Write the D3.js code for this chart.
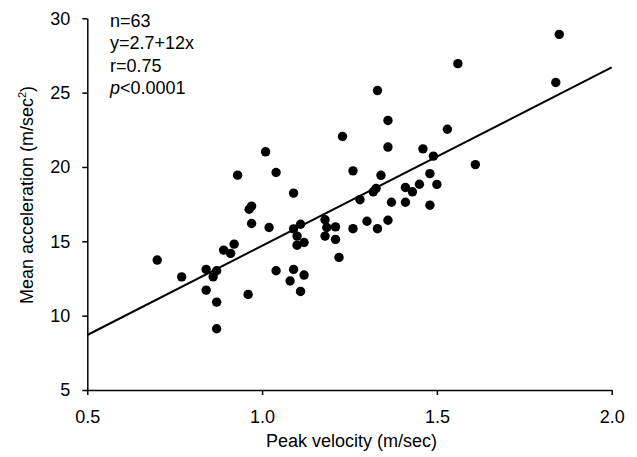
<!DOCTYPE html>
<html>
<head>
<meta charset="utf-8">
<script src="https://cdn.jsdelivr.net/npm/d3@7"></script>
<style>
  body { margin: 0; background: #fff; }
  svg text { font-family: "Liberation Sans", Arial, sans-serif; fill: #000; }
</style>
</head>
<body>
<div id="chart"></div>
<script>
// peak velocity (m/sec)
const peakVelocity = [
  0.70, 0.77, 0.84, 0.87, 0.86, 0.84, 0.87, 0.87, 0.89, 0.91,
  0.92, 0.96, 0.97, 1.02, 1.04, 1.08, 1.09, 1.11, 1.12, 1.09,
  1.10, 1.10, 1.12, 1.11, 1.01, 0.93, 1.04, 1.09, 0.963, 0.97,
  1.18, 1.185, 1.21, 1.18, 1.21, 1.22, 1.26, 1.30, 1.33, 1.36,
  1.28, 1.33, 1.36, 1.23, 1.36, 1.53, 1.46, 1.49, 1.26, 1.34,
  1.326, 1.318, 1.41, 1.43, 1.45, 1.48, 1.50, 1.37, 1.41, 1.48,
  1.61, 1.85, 1.84, 1.56
];
// mean acceleration (m/sec^2)
const meanAccel = [
  13.74, 12.61, 13.11, 13.02, 12.61, 11.72, 10.91, 9.12, 14.41, 14.19,
  14.81, 11.43, 16.20, 15.93, 13.02, 12.33, 13.11, 11.63, 12.73, 15.84,
  15.35, 14.74, 14.92, 16.15, 21.02, 19.45, 19.63, 18.24, 17.16, 17.37,
  16.45, 15.93, 15.97, 15.35, 15.13, 13.92, 15.85, 16.35, 15.85, 16.42,
  17.80, 25.14, 23.13, 22.05, 21.34, 22.54, 21.22, 20.73, 19.74, 19.44,
  18.55, 18.33, 18.62, 18.33, 18.84, 19.55, 18.83, 17.63, 17.63, 17.43,
  20.16, 28.92, 25.68, 26.95
];
const xTicks = [0.5, 1.0, 1.5, 2.0];
const yTicks = [5, 10, 15, 20, 25, 30];
const fitIntercept = 2.7;
const fitSlope = 12;
const statLines = ["n=63", "y=2.7+12x", "r=0.75"];

const W = 637, H = 457;
const margin = { top: 18.3, right: 25.3, bottom: 67, left: 87.3 };

const svg = d3.select("#chart").append("svg")
  .attr("width", W).attr("height", H);

const x = d3.scaleLinear().domain([0.5, 2.0]).range([margin.left, W - margin.right]);
const y = d3.scaleLinear().domain([5, 30]).range([H - margin.bottom, margin.top]);

const points = peakVelocity.map((v, i) => ({ v, a: meanAccel[i] }));

// axes
const xAxis = svg.append("g")
  .attr("transform", `translate(0,${y(5)})`)
  .call(d3.axisBottom(x).tickValues(xTicks).tickFormat(d3.format(".1f"))
    .tickSize(5).tickSizeOuter(0).tickPadding(15));
const yAxis = svg.append("g")
  .attr("transform", `translate(${x(0.5)},0)`)
  .call(d3.axisLeft(y).tickValues(yTicks).tickSize(5).tickSizeOuter(0).tickPadding(12));

[xAxis, yAxis].forEach(g => {
  g.select(".domain").attr("stroke", "#000").attr("stroke-width", 1.5);
  g.selectAll(".tick line").attr("stroke", "#000").attr("stroke-width", 1.5);
  g.selectAll(".tick text").attr("font-size", 18)
    .attr("font-family", "Liberation Sans, Arial, sans-serif");
});

// points
svg.append("g").selectAll("circle")
  .data(points)
  .join("circle")
  .attr("cx", d => x(d.v))
  .attr("cy", d => y(d.a))
  .attr("r", 4.7)
  .attr("fill", "#000");

// regression line
svg.append("line")
  .attr("x1", x(0.5)).attr("y1", y(fitIntercept + fitSlope * 0.5))
  .attr("x2", x(2.0)).attr("y2", y(fitIntercept + fitSlope * 2.0))
  .attr("stroke", "#000").attr("stroke-width", 2);

// stats annotation
const stats = svg.append("g").attr("font-size", 18);
statLines.forEach((s, i) => {
  stats.append("text").attr("x", 110).attr("y", 27 + i * 22.4).text(s);
});
const pLine = stats.append("text").attr("x", 110).attr("y", 27 + 3 * 22.4);
pLine.append("tspan").attr("font-style", "italic").text("p");
pLine.append("tspan").text("<0.0001");

// axis titles
svg.append("text")
  .attr("x", x(1.25) + 2).attr("y", 447)
  .attr("text-anchor", "middle").attr("font-size", 18)
  .text("Peak velocity (m/sec)");

const yl = svg.append("text")
  .attr("transform", `translate(33,${195}) rotate(-90)`)
  .attr("text-anchor", "middle").attr("font-size", 18);
yl.append("tspan").text("Mean acceleration (m/sec");
yl.append("tspan").attr("font-size", 11).attr("dy", -7).text("2");
yl.append("tspan").attr("dy", 7).text(")");
</script>
</body>
</html>
